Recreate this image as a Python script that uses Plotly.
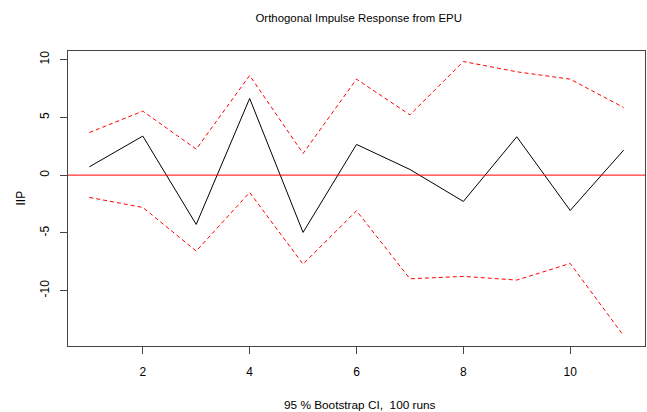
import plotly.graph_objects as go

horizon = [1, 2, 3, 4, 5, 6, 7, 8, 9, 10, 11]
irf = [0.72, 3.38, -4.27, 6.64, -4.96, 2.66, 0.49, -2.28, 3.32, -3.06, 2.16]
upper = [3.69, 5.54, 2.25, 8.63, 1.88, 8.31, 5.22, 9.84, 8.95, 8.31, 5.86]
lower = [-1.93, -2.80, -6.58, -1.50, -7.71, -3.09, -8.98, -8.77, -9.09, -7.65, -13.91]
xticks = [2, 4, 6, 8, 10]
yticks = [-10, -5, 0, 5, 10]

FONT = "Liberation Sans, Arial, sans-serif"

fig = go.Figure()
fig.add_trace(go.Scatter(x=horizon, y=irf, mode="lines",
                         line=dict(color="black", width=1), showlegend=False))
fig.add_trace(go.Scatter(x=horizon, y=upper, mode="lines",
                         line=dict(color="red", width=1, dash="4px,3px"), showlegend=False))
fig.add_trace(go.Scatter(x=horizon, y=lower, mode="lines",
                         line=dict(color="red", width=1, dash="4px,3px"), showlegend=False))
fig.add_hline(y=0, line=dict(color="red", width=1))

fig.update_layout(
    width=647, height=412,
    margin=dict(l=68, r=2, t=51, b=66),
    paper_bgcolor="white", plot_bgcolor="white",
    font=dict(family=FONT, size=12, color="black"),
    title=dict(text="Orthogonal Impulse Response from EPU", x=358.7 / 647, xanchor="center",
               y=1 - 18 / 412, yanchor="middle", font=dict(size=11.4)),
)

fig.update_xaxes(range=[0.6, 11.4], tickmode="array", tickvals=xticks,
                 ticks="outside", ticklen=7, tickcolor="#444", showgrid=False,
                 zeroline=False, showline=True, linecolor="#444", linewidth=1,
                 mirror=True, ticklabelstandoff=8, tickfont=dict(size=12))
fig.update_yaxes(range=[-14.8, 10.75], tickmode="array", tickvals=yticks,
                 ticktext=[str(v) for v in yticks],
                 ticks="outside", ticklen=7, tickcolor="#444", showgrid=False,
                 zeroline=False, showline=True, linecolor="#444", linewidth=1,
                 mirror=True, tickangle=-90, ticklabelstandoff=6, tickfont=dict(size=12))

fig.add_annotation(text="95 % Bootstrap CI,  100 runs", xref="paper", yref="paper",
                   x=(360 - 68) / 577, y=0, yanchor="middle", yshift=-58.5, showarrow=False,
                   font=dict(size=11.8))
fig.add_annotation(text="IIP", xref="paper", yref="paper", x=0, xanchor="center",
                   xshift=-48, y=0.5, textangle=-90, showarrow=False, font=dict(size=12))

fig.write_html("out.html", config={"displayModeBar": False},
               post_script="document.body.style.margin='0';document.body.style.overflow='hidden';")
